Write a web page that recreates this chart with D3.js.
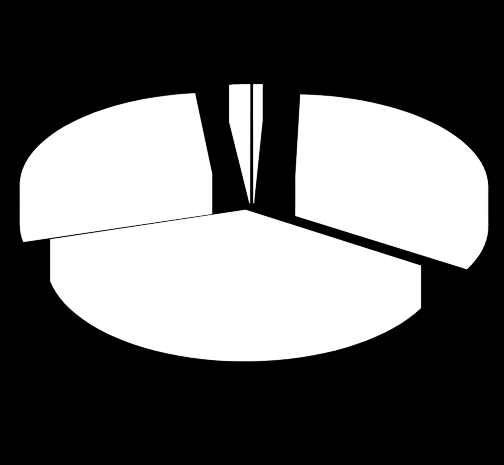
<!DOCTYPE html>
<html lang="en">
<head>
    <meta charset="UTF-8">
    <title>Exploded 3D pie</title>
    <script src="https://d3js.org/d3.v7.min.js"></script>
    <style>
        html, body { margin: 0; padding: 0; background: #000; overflow: hidden; }
        svg { display: block; }
    </style>
</head>
<body>
    <div id="chart"></div>

<script>
    // Slice shares in percent, clockwise from 12 o'clock
    var categories = ["a", "b", "c", "d", "e"];
    var values = [0.8, 33.4, 36.0, 27.9, 1.9];

    var width = 504, height = 465;

    // Camera: ground plane is seen in perspective
    var vanishX = 252.5, groundY = 186.5;
    var camDist = 1950, tilt = 0.474;
    var radius = 193, explode = 49, depth = 40;

    var svg = d3.select("#chart")
        .append("svg")
        .attr("width", width)
        .attr("height", height);

    svg.append("rect")
        .attr("width", width)
        .attr("height", height)
        .attr("fill", "#000");

    function project(X, Z, h) {
        var s = camDist / (camDist - Z);
        return [vanishX + X * s, groundY + tilt * Z * s + h * Math.pow(s, 0.7)];
    }

    var pie = d3.pie().sort(null);
    var line = d3.line();

    var arcs = pie(values);

    var groups = svg.selectAll("g.slice")
        .data(arcs)
        .enter().append("g")
        .attr("class", "slice")
        .attr("fill", "#fff")
        .attr("stroke", "#fff")
        .attr("stroke-width", 0.3);

    groups.each(function(d) {
        var g = d3.select(this);
        var mid = (d.startAngle + d.endAngle) / 2;
        // slice is pushed out from the centre along its middle angle
        var ox = explode * Math.sin(mid);
        var oz = -explode * Math.cos(mid);

        var steps = d3.range(0, 41).map(function(i) {
            return d.startAngle + (d.endAngle - d.startAngle) * i / 40;
        });
        var rim = function(h) {
            return steps.map(function(a) {
                return project(ox + radius * Math.sin(a), oz - radius * Math.cos(a), h);
            });
        };
        var rimTop = rim(0), rimBottom = rim(depth);
        var apexTop = project(ox, oz, 0), apexBottom = project(ox, oz, depth);

        // top face, bottom face
        g.append("path").attr("d", line([apexTop].concat(rimTop)) + "Z");
        g.append("path").attr("d", line([apexBottom].concat(rimBottom)) + "Z");

        // outer wall, one quad per step so the sides stay straight at the extremes
        d3.range(0, 40).forEach(function(i) {
            g.append("path").attr("d", line([rimTop[i], rimTop[i + 1], rimBottom[i + 1], rimBottom[i]]) + "Z");
        });

        // the two cut faces
        g.append("path").attr("d", line([apexTop, rimTop[0], rimBottom[0], apexBottom]) + "Z");
        g.append("path").attr("d", line([apexTop, rimTop[40], rimBottom[40], apexBottom]) + "Z");
    });
</script>
</body>
</html>
